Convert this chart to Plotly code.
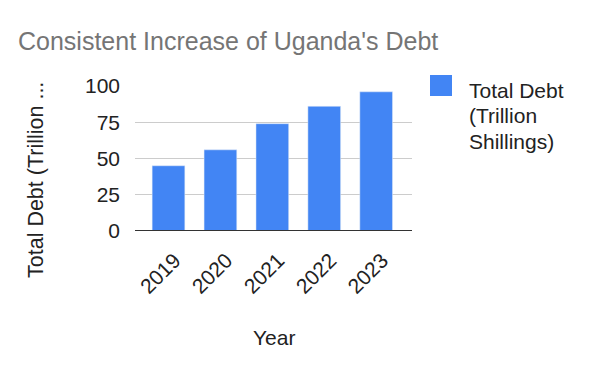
import plotly.graph_objects as go

years = ["2019", "2020", "2021", "2022", "2023"]
total_debt = [45, 56, 74, 86, 96]
legend_lines = ["Total Debt", "(Trillion", "Shillings)"]
y_ticks = [0, 25, 50, 75, 100]

FONT = "Arial, Liberation Sans, sans-serif"
BLUE = "#4285F4"
TXT = "#222222"

# pixel geometry helpers (layout only)
L, R, T, B = 135, 412, 86, 231
W, H = R - L, B - T
def px(x):
    return (x - L) / W
def py(y):
    return (B - y) / H

fig = go.Figure()
fig.add_trace(go.Bar(x=years, y=total_debt, marker_color=BLUE, width=0.63,
                     name=" ".join(legend_lines), showlegend=False))

fig.update_layout(
    width=600, height=371,
    margin=dict(l=L, r=600 - R, t=T, b=371 - B),
    paper_bgcolor="white", plot_bgcolor="white",
    font=dict(family=FONT, size=21, color=TXT),
    title=dict(text="Consistent Increase of Uganda's Debt",
               font=dict(family=FONT, size=25, color="#757575"),
               xref="container", x=18 / 600, xanchor="left",
               yref="container", y=1 - 41 / 371, yanchor="middle"),
    xaxis=dict(type="category", range=[-0.645, 4.69], showgrid=False,
               tickangle=-45, ticklabelstandoff=12, ticklabelshift=6,
               tickfont=dict(size=21, color=TXT),
               showline=False, zeroline=False),
    yaxis=dict(range=[0, 100], tickvals=y_ticks, showgrid=True, gridcolor="#cccccc",
               gridwidth=1, zeroline=False, showline=False,
               ticklabelstandoff=14, tickfont=dict(size=21, color=TXT)),
    showlegend=False,
    bargap=0.37,
)

# baseline (zero) line
fig.add_shape(type="line", xref="paper", yref="y", x0=0, x1=1, y0=0, y1=0,
              line=dict(color="#333333", width=2))

# axis titles
fig.add_annotation(text="Total Debt (Trillion ...", textangle=-90, showarrow=False,
                   xref="paper", yref="paper", x=px(36), y=py(180),
                   xanchor="center", yanchor="middle",
                   font=dict(family=FONT, size=21.5, color=TXT))
fig.add_annotation(text="Year", showarrow=False, xref="paper", yref="paper",
                   x=0.5, y=py(337), xanchor="center", yanchor="middle",
                   font=dict(family=FONT, size=21, color=TXT))

# legend
fig.add_shape(type="rect", xref="paper", yref="paper",
              x0=px(430), x1=px(452), y0=py(96), y1=py(75),
              fillcolor=BLUE, line=dict(width=0))
for i, line in enumerate(legend_lines):
    fig.add_annotation(text=line, showarrow=False, align="left",
                       xref="paper", yref="paper", x=px(467), y=py(90 + 25.5 * i),
                       xanchor="left", yanchor="middle",
                       font=dict(family=FONT, size=21, color=TXT))

fig.write_html("out.html", config={"displayModeBar": False},
               post_script="document.body.style.margin='0';document.body.style.padding='0';")
